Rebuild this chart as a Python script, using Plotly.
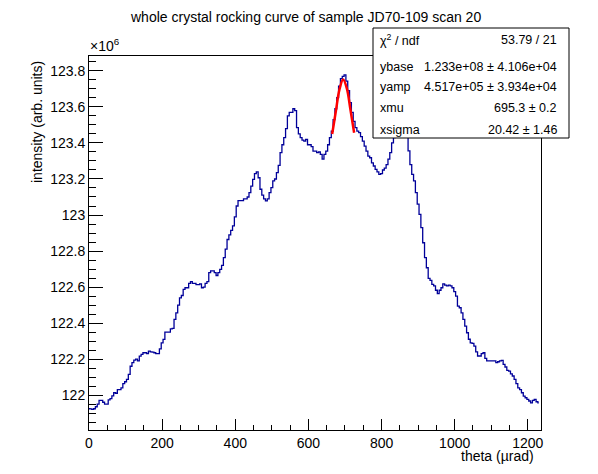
import plotly.graph_objects as go

# rocking curve, theta in urad (5 urad bins), intensity in units of 1e6
theta = list(range(0, 1235, 5))
intensity = [
    # 0 - 400
    121.924, 121.923, 121.920, 121.924, 121.935, 121.950, 121.970, 121.970, 121.960, 121.950,
    121.950, 121.973, 121.980, 121.995, 122.013, 122.010, 122.030, 122.030, 122.040, 122.063,
    122.074, 122.087, 122.115, 122.160, 122.180, 122.194, 122.200, 122.190, 122.216, 122.226,
    122.235, 122.235, 122.230, 122.244, 122.240, 122.239, 122.235, 122.230, 122.230, 122.257,
    122.290, 122.309, 122.350, 122.350, 122.350, 122.368, 122.370, 122.420, 122.457, 122.500,
    122.540, 122.553, 122.587, 122.596, 122.596, 122.620, 122.630, 122.620, 122.620, 122.613,
    122.613, 122.617, 122.596, 122.600, 122.620, 122.630, 122.680, 122.690, 122.690, 122.680,
    122.664, 122.680, 122.698, 122.720, 122.763, 122.810, 122.864, 122.890, 122.915, 122.940,
    122.990,
    # 405 - 830
    123.050, 123.080, 123.080, 123.080, 123.090, 123.090, 123.100, 123.124, 123.160, 123.198,
    123.230, 123.240, 123.207, 123.143, 123.110, 123.090, 123.078, 123.090, 123.124, 123.152,
    123.190, 123.200, 123.235, 123.276, 123.346, 123.390, 123.430, 123.480, 123.550, 123.570,
    123.570, 123.590, 123.580, 123.485, 123.450, 123.430, 123.416, 123.410, 123.420, 123.390,
    123.390, 123.380, 123.355, 123.355, 123.346, 123.350, 123.337, 123.310, 123.337, 123.355,
    123.390, 123.430, 123.466, 123.530, 123.590, 123.652, 123.716, 123.757, 123.770, 123.778,
    123.744, 123.690, 123.624, 123.570, 123.520, 123.485, 123.466, 123.457, 123.435, 123.410,
    123.383, 123.355, 123.327, 123.318, 123.290, 123.272, 123.253, 123.240, 123.226, 123.230,
    123.250, 123.260, 123.280, 123.310, 123.346, 123.400,
    # 835 - 870 (behind the stat box)
    123.430, 123.470, 123.510, 123.540, 123.560, 123.560, 123.520, 123.460,
    # 875 - 1230
    123.356, 123.280, 123.226, 123.190, 123.124, 123.060, 123.004, 122.930, 122.846, 122.763,
    122.707, 122.648, 122.637, 122.615, 122.606, 122.582, 122.563, 122.582, 122.596, 122.618,
    122.611, 122.606, 122.611, 122.606, 122.596, 122.574, 122.550, 122.494, 122.485, 122.457,
    122.420, 122.383, 122.346, 122.310, 122.290, 122.287, 122.272, 122.240, 122.217, 122.217,
    122.230, 122.235, 122.204, 122.190, 122.190, 122.190, 122.190, 122.190, 122.180, 122.185,
    122.190, 122.193, 122.170, 122.156, 122.137, 122.133, 122.118, 122.106, 122.087, 122.063,
    122.040, 122.030, 122.013, 121.994, 121.985, 121.976, 121.967, 121.957, 121.970, 121.976,
    121.963, 121.957,
]

# gaussian fit curve
fit_theta = [665, 675, 685, 695, 705, 715, 725]
fit_intensity = [123.450, 123.576, 123.698, 123.752, 123.703, 123.584, 123.457]

stat_names = ["χ<sup>2</sup> / ndf", "ybase", "yamp", "xmu", "xsigma"]
stat_values = ["53.79 / 21", "1.233e+08 ± 4.106e+04", "4.517e+05 ± 3.934e+04",
               "695.3 ± 0.2", "20.42 ± 1.46"]

# page body has an 8px margin, so the figure is shrunk by that much
OFF = 8
W, H = 598 - OFF, 474 - OFF
L, R, T, B = 89, 541, 56, 430  # plot frame in screen pixels
FONT = "Liberation Sans, Arial, Helvetica, sans-serif"


def px(x):
    return (x - L) / (R - L)


def py(y):
    return (B - y) / (B - T)


fig = go.Figure()
fig.add_trace(go.Scatter(x=theta, y=intensity, mode="lines", line_shape="hvh",
                         line=dict(color="#000099", width=1.3), showlegend=False))
fig.add_trace(go.Scatter(x=fit_theta, y=fit_intensity, mode="lines", line_shape="spline",
                         line=dict(color="#ff0000", width=2.5), showlegend=False))

# stat box
fig.add_shape(type="rect", xref="paper", yref="paper", layer="above",
              x0=px(373), x1=px(569), y0=py(138), y1=py(28),
              fillcolor="white", line=dict(color="black", width=1))
row_y = [40, 66.5, 87, 108, 129.5]
for name, val, yy in zip(stat_names, stat_values, row_y):
    fig.add_annotation(xref="paper", yref="paper", x=px(378), y=py(yy), text=name,
                       showarrow=False, xanchor="left", yanchor="middle",
                       font=dict(family=FONT, size=12.5, color="black"))
    fig.add_annotation(xref="paper", yref="paper", x=px(559), y=py(yy), text=val,
                       showarrow=False, xanchor="right", yanchor="middle",
                       font=dict(family=FONT, size=12.5, color="black"))

fig.add_annotation(xref="paper", yref="paper", x=px(305), y=py(17),
                   text="whole crystal rocking curve of sample JD70-109 scan 20",
                   showarrow=False, xanchor="center", yanchor="middle",
                   font=dict(family=FONT, size=14, color="black"))
fig.add_annotation(xref="paper", yref="paper", x=px(37), y=py(122),
                   text="intensity (arb. units)", textangle=-90,
                   showarrow=False, xanchor="center", yanchor="middle",
                   font=dict(family=FONT, size=14, color="black"))
fig.add_annotation(xref="paper", yref="paper", x=px(536), y=py(456),
                   text="theta (µrad)",
                   showarrow=False, xanchor="right", yanchor="middle",
                   font=dict(family=FONT, size=14, color="black"))
fig.add_annotation(xref="paper", yref="paper", x=px(88), y=py(56),
                   text="×10<sup>6</sup>",
                   showarrow=False, xanchor="left", yanchor="bottom",
                   font=dict(family=FONT, size=14, color="black"))

axis_common = dict(showgrid=False, zeroline=False, showline=True, mirror=True,
                   linecolor="black", linewidth=1, ticks="inside", tickcolor="black",
                   tickfont=dict(family=FONT, size=14, color="black"))
fig.update_xaxes(range=[0, 1236], tick0=0, dtick=200, ticklen=11,
                 minor=dict(dtick=50, ticklen=5.5, ticks="inside", tickcolor="black"),
                 **axis_common)
fig.update_yaxes(range=[121.806, 123.883], tick0=122, dtick=0.2, ticklen=14,
                 minor=dict(dtick=0.05, ticklen=7, ticks="inside", tickcolor="black"),
                 **axis_common)

fig.update_layout(width=W, height=H,
                  margin=dict(l=L - OFF, r=W - (R - OFF), t=T - OFF, b=H - (B - OFF)),
                  paper_bgcolor="white", plot_bgcolor="white")

fig.write_html("out.html")
